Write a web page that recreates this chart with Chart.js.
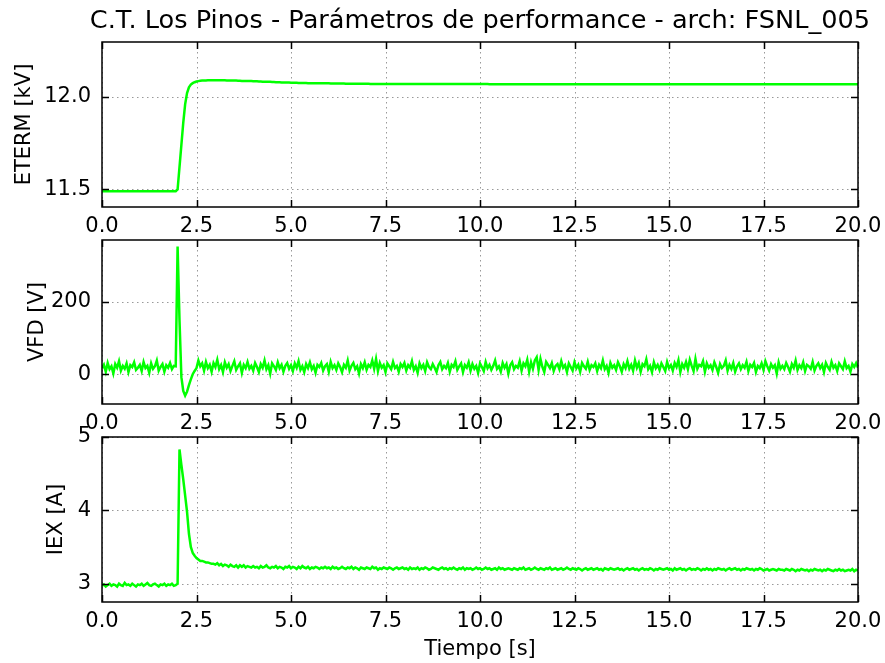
<!DOCTYPE html>
<html>
<head>
<meta charset="utf-8">
<title>C.T. Los Pinos - FSNL_005</title>
<script src="https://cdn.jsdelivr.net/npm/chart.js@4"></script>
<style>
  html, body { margin: 0; padding: 0; background: #fff; }
  #lienzo { position: relative; width: 885px; height: 663px; }
  #lienzo canvas { position: absolute; left: 0; top: 0; }
</style>
</head>
<body>
<div id="lienzo">
  <canvas id="gEterm" width="885" height="663"></canvas>
  <canvas id="gVfd" width="885" height="663"></canvas>
  <canvas id="gIex" width="885" height="663"></canvas>
</div>
<script>
// registro muestreado cada 50 ms, 0 a 20 s
const DT = 0.05;

const TITULO = 'C.T. Los Pinos - Parámetros de performance - arch: FSNL_005';

const ticksTiempo = [0, 2.5, 5, 7.5, 10, 12.5, 15, 17.5, 20];
const ticksEterm = [11.5, 12.0];
const ticksVfd = [0, 200];
const ticksIex = [3, 4, 5];

// tension de terminal [kV]
const eterm = [
  11.49,11.49,11.49,11.49,11.49,11.49,11.49,11.49,11.49,11.49,11.49,11.49,11.49,11.49,11.49,11.49,11.49,11.49,11.49,11.49,
  11.49,11.49,11.49,11.49,11.49,11.49,11.49,11.49,11.49,11.49,11.49,11.49,11.49,11.49,11.49,11.49,11.49,11.49,11.49,11.49,
  11.50,11.62,11.74,11.86,11.96,12.02,12.05,12.065,12.073,12.078,12.082,12.084,12.086,12.087,12.088,12.088,12.089,12.089,12.089,12.089,
  12.089,12.089,12.089,12.089,12.089,12.089,12.088,12.088,12.088,12.087,12.087,12.087,12.086,12.086,12.085,12.085,12.085,12.084,12.084,12.084,
  12.083,12.083,12.083,12.082,12.082,12.081,12.081,12.080,12.080,12.080,12.079,12.079,12.078,12.078,12.078,12.077,12.077,12.077,12.076,12.076,
  12.075,12.075,12.075,12.075,12.074,12.074,12.074,12.074,12.074,12.073,12.073,12.073,12.073,12.073,12.072,12.072,12.072,12.072,12.072,12.072,
  12.072,12.071,12.071,12.071,12.071,12.071,12.071,12.071,12.071,12.070,12.070,12.070,12.070,12.070,12.070,12.070,12.070,12.070,12.070,12.070,
  12.070,12.070,12.069,12.069,12.069,12.069,12.069,12.069,12.069,12.069,12.069,12.069,12.069,12.069,12.069,12.069,12.069,12.069,12.069,12.069,
  12.069,12.069,12.068,12.068,12.068,12.068,12.068,12.068,12.068,12.068,12.068,12.068,12.068,12.068,12.068,12.068,12.068,12.068,12.068,12.068,
  12.068,12.068,12.068,12.068,12.068,12.068,12.068,12.068,12.068,12.068,12.068,12.068,12.068,12.068,12.068,12.068,12.068,12.068,12.068,12.068,
  12.068,12.068,12.068,12.068,12.068,12.067,12.067,12.067,12.067,12.067,12.067,12.067,12.067,12.067,12.067,12.067,12.067,12.067,12.067,12.067,
  12.067,12.067,12.067,12.067,12.067,12.067,12.067,12.067,12.067,12.067,12.067,12.067,12.067,12.067,12.067,12.067,12.067,12.067,12.067,12.067,
  12.067,12.067,12.067,12.067,12.067,12.067,12.067,12.067,12.067,12.067,12.067,12.067,12.067,12.067,12.067,12.067,12.067,12.067,12.067,12.067,
  12.067,12.067,12.067,12.067,12.067,12.067,12.067,12.067,12.067,12.067,12.067,12.067,12.067,12.067,12.067,12.067,12.067,12.067,12.067,12.067,
  12.067,12.067,12.067,12.067,12.067,12.067,12.067,12.067,12.067,12.067,12.067,12.067,12.067,12.067,12.067,12.067,12.067,12.067,12.067,12.067,
  12.067,12.067,12.067,12.067,12.067,12.067,12.067,12.067,12.067,12.067,12.067,12.067,12.067,12.067,12.067,12.067,12.067,12.067,12.067,12.067,
  12.067,12.067,12.067,12.067,12.067,12.067,12.067,12.067,12.067,12.067,12.067,12.067,12.067,12.067,12.067,12.067,12.067,12.067,12.067,12.067,
  12.067,12.067,12.067,12.067,12.067,12.067,12.067,12.067,12.067,12.067,12.067,12.067,12.067,12.067,12.067,12.067,12.067,12.067,12.067,12.067,
  12.067,12.067,12.067,12.067,12.067,12.067,12.067,12.067,12.067,12.067,12.067,12.067,12.067,12.067,12.067,12.067,12.067,12.067,12.067,12.067,
  12.067,12.067,12.067,12.067,12.067,12.067,12.067,12.067,12.067,12.067,12.067,12.067,12.067,12.067,12.067,12.067,12.067,12.067,12.067,12.067,
  12.067
];

// tension de campo [V]
const vfd = [
  17,26,7,31,14,22,2,28,18,36,10,23,15,30,6,25,20,33,12,18,
  26,9,34,17,23,4,30,15,22,38,10,20,28,7,25,18,31,14,23,22,
  352,150,-8,-46,-59,-48,-30,-14,0,9,17,38,22,30,10,34,17,26,7,31,
  20,40,14,25,6,33,18,28,9,23,36,12,22,30,4,26,17,34,15,23,
  10,31,20,6,28,18,38,14,25,2,30,22,12,33,17,26,7,23,31,15,
  25,9,30,18,36,12,22,6,28,17,33,14,23,4,26,20,31,10,22,28,
  7,34,17,25,12,30,20,6,26,18,38,10,23,31,14,22,2,28,17,33,
  12,26,20,38,15,42,9,31,18,25,6,30,22,14,34,17,23,7,28,20,
  31,10,25,18,36,12,22,4,30,17,26,9,33,20,14,28,18,6,25,34,
  14,23,17,31,7,26,20,36,12,22,30,6,25,18,33,10,28,15,23,4,
  30,20,9,34,17,26,12,23,38,15,22,7,31,18,28,2,25,33,14,23,
  18,36,10,30,22,40,7,33,15,38,47,12,42,20,6,34,26,17,31,9,
  23,28,14,36,18,25,6,30,20,10,33,17,26,7,31,22,15,34,12,25,
  20,30,9,26,17,38,14,23,4,31,18,25,12,33,22,7,28,17,36,15,
  26,10,38,18,31,7,28,22,41,14,23,6,33,17,26,12,30,20,9,34,
  17,25,10,31,20,39,6,28,18,34,14,40,23,9,42,15,26,22,36,7,
  30,18,25,12,33,20,4,28,17,23,38,10,26,15,31,7,22,30,14,25,
  18,34,9,26,20,31,6,23,17,30,12,36,22,10,28,18,25,2,33,15,
  23,14,31,20,7,28,18,38,12,25,17,33,9,26,22,15,34,10,23,30,
  17,26,6,31,20,12,34,18,25,9,30,22,14,36,17,23,7,28,20,31,
  18
];

// corriente de excitacion [A]
const iex = [
  2.97,2.99,2.96,2.98,3.00,2.97,2.99,2.98,2.96,3.00,2.98,2.97,3.01,2.98,2.99,2.97,3.00,2.98,2.96,2.99,
  2.98,3.00,2.97,2.99,3.01,2.98,2.97,2.99,3.00,2.98,2.96,2.99,2.98,3.00,2.97,2.99,2.98,3.00,2.97,2.98,
  3.00,4.83,4.62,4.42,4.20,3.98,3.68,3.50,3.42,3.38,3.35,3.33,3.31,3.31,3.30,3.29,3.29,3.28,3.27,3.27,
  3.26,3.28,3.25,3.27,3.24,3.26,3.25,3.23,3.26,3.24,3.23,3.25,3.22,3.25,3.23,3.25,3.22,3.24,3.23,3.22,
  3.24,3.22,3.23,3.21,3.24,3.22,3.23,3.25,3.22,3.21,3.23,3.22,3.24,3.21,3.23,3.22,3.20,3.23,3.22,3.24,
  3.21,3.23,3.22,3.20,3.23,3.21,3.24,3.22,3.21,3.23,3.20,3.22,3.21,3.23,3.22,3.20,3.22,3.21,3.23,3.21,
  3.22,3.20,3.23,3.21,3.22,3.20,3.21,3.23,3.21,3.20,3.22,3.21,3.23,3.20,3.22,3.21,3.19,3.22,3.21,3.20,
  3.22,3.21,3.20,3.23,3.21,3.22,3.19,3.21,3.20,3.22,3.21,3.20,3.22,3.21,3.19,3.21,3.22,3.20,3.21,3.22,
  3.20,3.21,3.19,3.22,3.20,3.21,3.20,3.22,3.19,3.21,3.20,3.22,3.21,3.19,3.20,3.22,3.21,3.20,3.19,3.21,
  3.22,3.20,3.21,3.19,3.21,3.20,3.22,3.20,3.19,3.21,3.20,3.22,3.19,3.21,3.20,3.21,3.19,3.20,3.22,3.20,
  3.21,3.19,3.20,3.22,3.20,3.21,3.19,3.20,3.21,3.19,3.22,3.20,3.21,3.19,3.20,3.21,3.20,3.19,3.21,3.20,
  3.19,3.21,3.20,3.22,3.19,3.20,3.21,3.19,3.20,3.22,3.20,3.19,3.21,3.20,3.19,3.21,3.20,3.22,3.19,3.20,
  3.21,3.19,3.20,3.21,3.19,3.20,3.22,3.20,3.19,3.21,3.20,3.19,3.21,3.20,3.18,3.20,3.21,3.19,3.20,3.21,
  3.19,3.20,3.21,3.19,3.20,3.18,3.21,3.20,3.19,3.21,3.20,3.19,3.20,3.21,3.19,3.20,3.18,3.20,3.21,3.19,
  3.20,3.21,3.19,3.20,3.18,3.20,3.21,3.19,3.20,3.19,3.21,3.20,3.18,3.20,3.19,3.21,3.20,3.19,3.20,3.21,
  3.19,3.20,3.18,3.21,3.19,3.20,3.21,3.19,3.20,3.18,3.20,3.21,3.19,3.20,3.19,3.21,3.20,3.18,3.20,3.19,
  3.21,3.19,3.20,3.18,3.20,3.19,3.21,3.20,3.19,3.20,3.18,3.20,3.21,3.19,3.20,3.21,3.19,3.20,3.18,3.20,
  3.19,3.21,3.20,3.19,3.20,3.18,3.20,3.19,3.21,3.20,3.18,3.19,3.20,3.18,3.19,3.20,3.19,3.18,3.20,3.19,
  3.19,3.18,3.20,3.19,3.18,3.20,3.19,3.17,3.19,3.18,3.20,3.19,3.18,3.19,3.17,3.19,3.18,3.20,3.19,3.18,
  3.19,3.17,3.19,3.18,3.20,3.19,3.18,3.17,3.19,3.18,3.20,3.18,3.19,3.17,3.18,3.19,3.18,3.20,3.17,3.19,
  3.18
];

Chart.defaults.font.family = "'DejaVu Sans', sans-serif";
Chart.defaults.font.size = 21;
Chart.defaults.color = '#000';

const EJE_IZQ = 102; // borde izquierdo de los paneles

// marco con ticks hacia adentro en los cuatro lados y grilla punteada
const marcoEjes = {
  id: 'marcoEjes',
  beforeDatasetsDraw(chart) {
    const { ctx, chartArea: a, scales: { x, y } } = chart;
    ctx.save();
    ctx.strokeStyle = 'rgba(0,0,0,0.4)';
    ctx.lineWidth = 1;
    ctx.setLineDash([1.5, 3.5]);
    ctx.beginPath();
    x.ticks.forEach(t => {
      const px = Math.round(x.getPixelForValue(t.value)) + 0.5;
      ctx.moveTo(px, a.top); ctx.lineTo(px, a.bottom);
    });
    y.ticks.forEach(t => {
      const py = Math.round(y.getPixelForValue(t.value)) + 0.5;
      ctx.moveTo(a.left, py); ctx.lineTo(a.right, py);
    });
    ctx.stroke();
    ctx.restore();
  },
  afterDatasetsDraw(chart) {
    const { ctx, chartArea: a, scales: { x, y } } = chart;
    const L = 7;
    ctx.save();
    ctx.strokeStyle = '#000';
    ctx.lineWidth = 1.5;
    ctx.beginPath();
    x.ticks.forEach(t => {
      const px = Math.round(x.getPixelForValue(t.value)) + 0.5;
      ctx.moveTo(px, a.bottom); ctx.lineTo(px, a.bottom - L);
      ctx.moveTo(px, a.top); ctx.lineTo(px, a.top + L);
    });
    y.ticks.forEach(t => {
      const py = Math.round(y.getPixelForValue(t.value)) + 0.5;
      ctx.moveTo(a.left, py); ctx.lineTo(a.left + L, py);
      ctx.moveTo(a.right, py); ctx.lineTo(a.right - L, py);
    });
    ctx.stroke();
    ctx.strokeRect(a.left, a.top, a.right - a.left, a.bottom - a.top);
    ctx.restore();
  }
};

// titulo centrado sobre el panel, sin recortar al ancho del area
const tituloPanel = {
  id: 'tituloPanel',
  afterDraw(chart, args, opts) {
    if (!opts.texto) return;
    const { ctx, chartArea: a } = chart;
    ctx.save();
    ctx.font = "25.6px 'DejaVu Sans', sans-serif";
    ctx.fillStyle = '#000';
    ctx.textAlign = 'center';
    ctx.textBaseline = 'middle';
    ctx.fillText(opts.texto, (a.left + a.right) / 2, 21);
    ctx.restore();
  }
};

function puntos(valores) {
  return valores.map((v, i) => ({ x: i * DT, y: v }));
}

function panel(id, cfg) {
  return new Chart(document.getElementById(id), {
    type: 'line',
    data: {
      datasets: [{
        data: puntos(cfg.valores),
        borderColor: '#00ff00',
        borderWidth: 2.5,
        pointRadius: 0,
        tension: 0,
      }],
    },
    options: {
      responsive: false,
      animation: false,
      layout: { padding: { left: cfg.izq, right: 27, top: cfg.arriba, bottom: cfg.abajo } },
      plugins: {
        legend: { display: false },
        tooltip: { enabled: false },
        title: { display: false },
        tituloPanel: { texto: cfg.titulo || '' },
      },
      scales: {
        x: {
          type: 'linear',
          min: 0,
          max: 20,
          grid: { display: false, drawTicks: false },
          border: { display: false },
          afterBuildTicks: s => { s.ticks = ticksTiempo.map(v => ({ value: v })); },
          afterFit: s => {
            s.height = cfg.altoX;
            // las etiquetas extremas pueden salirse del panel
            s.paddingLeft = 0;
            s.paddingRight = 0;
          },
          ticks: { padding: 7, maxRotation: 0, callback: v => v.toFixed(1) },
          title: cfg.tituloX ? { display: true, text: cfg.tituloX, padding: 0 } : { display: false },
        },
        y: {
          min: cfg.min,
          max: cfg.max,
          grid: { display: false, drawTicks: false },
          border: { display: false },
          afterBuildTicks: s => { s.ticks = cfg.ticks.map(v => ({ value: v })); },
          afterFit: s => { s.width = EJE_IZQ - cfg.izq; },
          ticks: { padding: 11, callback: cfg.formato },
          title: { display: true, text: cfg.tituloY, padding: 0 },
        },
      },
    },
    plugins: [marcoEjes, tituloPanel],
  });
}

panel('gEterm', {
  valores: eterm, min: 11.405, max: 12.295, ticks: ticksEterm,
  formato: v => v.toFixed(1), tituloY: 'ETERM [kV]', titulo: TITULO,
  izq: 12, arriba: 42, abajo: 426, altoX: 30,
});

panel('gVfd', {
  valores: vfd, min: -82, max: 370, ticks: ticksVfd,
  formato: v => v.toFixed(0), tituloY: 'VFD [V]',
  izq: 25, arriba: 240, abajo: 229, altoX: 30,
});

panel('gIex', {
  valores: iex, min: 2.75, max: 5.0, ticks: ticksIex,
  formato: v => v.toFixed(0), tituloY: 'IEX [A]', tituloX: 'Tiempo [s]',
  izq: 44, arriba: 437, abajo: 1, altoX: 60,
});
</script>
</body>
</html>
